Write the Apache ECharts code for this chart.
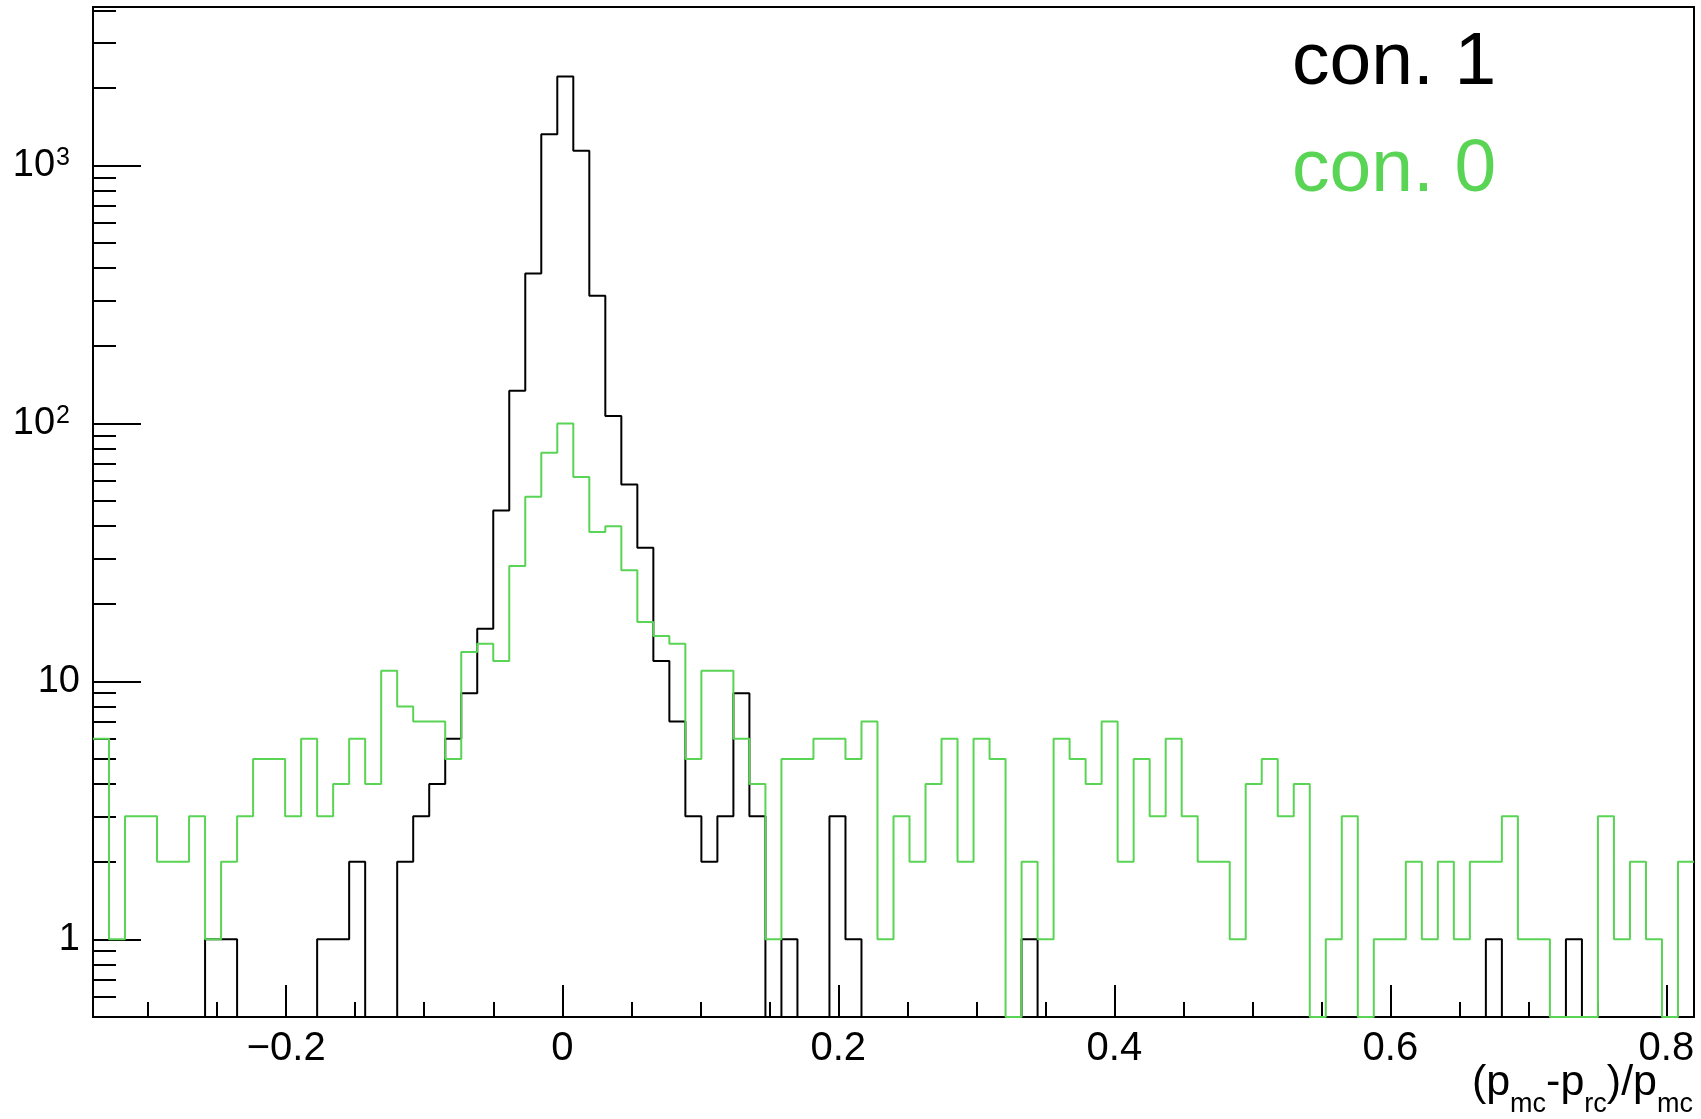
<!DOCTYPE html>
<html>
<head>
<meta charset="utf-8">
<script src="https://cdn.jsdelivr.net/npm/echarts@6/dist/echarts.min.js"></script>
<style>
  html, body { margin: 0; padding: 0; background: #fff; }
  #chart { width: 1701px; height: 1119px; }
</style>
</head>
<body>
<div id="chart"></div>
<script>
// Binning of both histograms: 100 equal bins on [X_MIN, X_MAX]
const X_MIN = -0.34;
const X_MAX = 0.82;
const N_BINS = 100;

// Vertical (log) range of the frame
const Y_MIN = 0.5;
const Y_MAX = 4120;

// Entries per bin, con. 1
const countsCon1 = [
  0, 0, 0, 0, 0, 0, 0, 1, 1, 0,
  0, 0, 0, 0, 1, 1, 2, 0, 0, 2,
  3, 4, 6, 9, 16, 46, 134, 382, 1324, 2213,
  1141, 313, 107, 58, 33, 12, 7, 3, 2, 3,
  9, 3, 0, 1, 0, 0, 3, 1, 0, 0,
  0, 0, 0, 0, 0, 0, 0, 0, 1, 0,
  0, 0, 0, 0, 0, 0, 0, 0, 0, 0,
  0, 0, 0, 0, 0, 0, 0, 0, 0, 0,
  0, 0, 0, 0, 0, 0, 0, 1, 0, 0,
  0, 0, 1, 0, 0, 0, 0, 0, 0, 0
];

// Entries per bin, con. 0
const countsCon0 = [
  6, 1, 3, 3, 2, 2, 3, 1, 2, 3,
  5, 5, 3, 6, 3, 4, 6, 4, 11, 8,
  7, 7, 5, 13, 14, 12, 28, 52, 77, 100,
  62, 38, 40, 27, 17, 15, 14, 5, 11, 11,
  6, 4, 1, 5, 5, 6, 6, 5, 7, 1,
  3, 2, 4, 6, 2, 6, 5, 0, 2, 1,
  6, 5, 4, 7, 2, 5, 3, 6, 3, 2,
  2, 1, 4, 5, 3, 4, 0, 1, 3, 0,
  1, 1, 2, 1, 2, 1, 2, 2, 3, 1,
  1, 0, 0, 0, 3, 1, 2, 1, 0, 2
];

// Axis ticks
const xMajorTicks = [-0.2, 0, 0.2, 0.4, 0.6, 0.8];
const xMinorTicks = [-0.3, -0.25, -0.2, -0.15, -0.1, -0.05, 0, 0.05, 0.1, 0.15, 0.2,
  0.25, 0.3, 0.35, 0.4, 0.45, 0.5, 0.55, 0.6, 0.65, 0.7, 0.75, 0.8];
const yMajorTicks = [1, 10, 100, 1000];
const yMinorTicks = [0.6, 0.7, 0.8, 0.9, 2, 3, 4, 5, 6, 7, 8, 9,
  20, 30, 40, 50, 60, 70, 80, 90, 200, 300, 400, 500, 600, 700, 800, 900,
  2000, 3000, 4000];

const GREEN = '#59d454';
const FONT = '"Liberation Sans", Arial, Helvetica, sans-serif';

// Outline of a histogram: one point per bin low edge, plus the upper edge of the last bin.
// Empty bins sit on the bottom of the frame, since a log axis has no zero.
function histOutline(counts) {
  const w = (X_MAX - X_MIN) / N_BINS;
  const pts = counts.map((c, k) => [X_MIN + k * w, Math.max(c, Y_MIN)]);
  pts.push([X_MAX, Math.max(counts[counts.length - 1], Y_MIN)]);
  return pts;
}

function fmtX(v) {
  const r = Math.round(v * 10) / 10;
  if (r === 0) return '0';
  return (r < 0 ? '\u2212' : '') + String(Math.abs(r));
}

function fmtY(v) {
  const e = Math.round(Math.log10(v));
  if (e === 0) return '1';
  if (e === 1) return '10';
  return '10{sup|' + e + '}';
}

const chart = echarts.init(document.getElementById('chart'), null, { renderer: 'canvas' });

chart.setOption({
  animation: false,
  backgroundColor: '#fff',
  grid: {
    left: 93, top: 7, width: 1601, height: 1010,
    show: true, borderColor: '#000', borderWidth: 2, backgroundColor: 'transparent'
  },
  legend: {
    orient: 'vertical',
    left: 1281, top: 21,
    itemGap: 32,
    itemWidth: 0, itemHeight: 0,
    itemStyle: { opacity: 0 },
    lineStyle: { opacity: 0 },
    selectedMode: false,
    textStyle: { fontFamily: FONT, fontSize: 75 },
    data: [
      { name: 'con. 1', textStyle: { color: '#000' } },
      { name: 'con. 0', textStyle: { color: GREEN } }
    ]
  },
  xAxis: [
    {
      type: 'value', min: X_MIN, max: X_MAX,
      axisLine: { show: false, onZero: false },
      splitLine: { show: false },
      axisTick: { show: true, inside: true, length: 32, customValues: xMajorTicks,
        lineStyle: { color: '#000', width: 2 } },
      axisLabel: { show: true, customValues: xMajorTicks, formatter: fmtX,
        margin: 12, color: '#000', fontFamily: FONT, fontSize: 40 }
    },
    {
      type: 'value', min: X_MIN, max: X_MAX, position: 'bottom',
      axisLine: { show: false, onZero: false },
      splitLine: { show: false },
      axisTick: { show: true, inside: true, length: 15, customValues: xMinorTicks,
        lineStyle: { color: '#000', width: 2 } },
      axisLabel: { show: false }
    }
  ],
  yAxis: [
    {
      type: 'log', logBase: 10, min: Y_MIN, max: Y_MAX, position: 'left',
      axisLine: { show: false, onZero: false },
      splitLine: { show: false },
      axisTick: { show: true, inside: true, length: 48, customValues: yMajorTicks,
        lineStyle: { color: '#000', width: 2 } },
      axisLabel: {
        show: true, customValues: yMajorTicks, formatter: fmtY,
        margin: 13, color: '#000', fontFamily: FONT, fontSize: 38, lineHeight: 40,
        rich: {
          sup: { fontFamily: FONT, fontSize: 25, lineHeight: 25, padding: [0, 10, 15, 1],
            verticalAlign: 'bottom', color: '#000' }
        }
      }
    },
    {
      type: 'log', logBase: 10, min: Y_MIN, max: Y_MAX, position: 'left',
      axisLine: { show: false, onZero: false },
      splitLine: { show: false },
      axisTick: { show: true, inside: true, length: 23, customValues: yMinorTicks,
        lineStyle: { color: '#000', width: 2 } },
      axisLabel: { show: false }
    }
  ],
  graphic: [
    {
      type: 'text',
      right: 8, top: 1062,
      style: {
        text: '(p{sub|mc}-p{sub|rc})/p{sub|mc}',
        fontFamily: FONT, fontSize: 43, fill: '#000',
        rich: {
          sub: { fontFamily: FONT, fontSize: 27, padding: [42, 0, 0, 0], fill: '#000' }
        }
      }
    }
  ],
  series: [
    {
      name: 'con. 1', type: 'line', step: 'end',
      xAxisIndex: 0, yAxisIndex: 0,
      data: histOutline(countsCon1),
      showSymbol: false, symbol: 'none', clip: true,
      lineStyle: { color: '#000', width: 2 },
      itemStyle: { color: '#000' }
    },
    {
      name: 'con. 0', type: 'line', step: 'end',
      xAxisIndex: 0, yAxisIndex: 0,
      data: histOutline(countsCon0),
      showSymbol: false, symbol: 'none', clip: true,
      lineStyle: { color: GREEN, width: 2 },
      itemStyle: { color: GREEN }
    }
  ]
});
</script>
</body>
</html>
